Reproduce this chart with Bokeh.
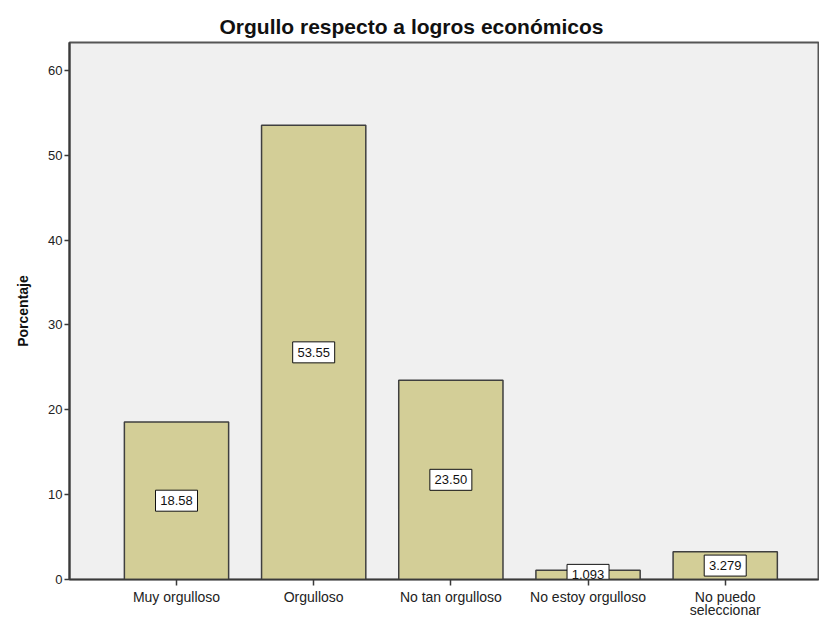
from bokeh.plotting import figure
from bokeh.models import ColumnDataSource, FixedTicker, Range1d
from bokeh.core.properties import value
from bokeh.embed import file_html
from bokeh.resources import INLINE

categories = ["Muy orgulloso", "Orgulloso", "No tan orgulloso", "No estoy orgulloso", "No puedo\nseleccionar"]
values = [18.58, 53.55, 23.50, 1.093, 3.279]
value_labels = ["18.58", "53.55", "23.50", "1.093", "3.279"]
y_ticks = [0, 10, 20, 30, 40, 50, 60]

xs = list(range(len(categories)))
src = ColumnDataSource(dict(x=xs, top=values, mid=[v / 2 for v in values], lbl=value_labels))

FONT = "Liberation Sans"

p = figure(width=819, height=621, output_backend="svg", toolbar_location=None,
           x_range=Range1d(-0.78, 4.68), y_range=Range1d(0, 63.3),
           min_border_left=69, min_border_right=1, min_border_top=42, min_border_bottom=40)

p.background_fill_color = "#F0F0F0"
p.border_fill_color = "white"
p.outline_line_color = "#555555"
p.outline_line_width = 2
p.xgrid.visible = False
p.ygrid.visible = False

p.vbar(x="x", top="top", width=0.76, source=src, fill_color="#D3CE97",
       line_color="#3F3F3F", line_width=1.5)

p.rect(x="x", y="mid", width=42, height=21, width_units="screen", height_units="screen",
       source=src, fill_color="white", line_color="#111111", line_width=1)
p.text(x="x", y="mid", text="lbl", source=src, text_align="center",
       text_baseline="middle", text_font=value(FONT), text_font_size="13px",
       text_color="#111111")

p.title.text = "Orgullo respecto a logros económicos"
p.title.align = "left"
p.title.offset = 150
p.title.text_font = FONT
p.title.text_font_size = "21px"
p.title.text_font_style = "bold"
p.title.text_color = "#111111"

ya = p.yaxis[0]
ya.ticker = FixedTicker(ticks=y_ticks)
ya.minor_tick_line_color = None
ya.major_tick_out = 5
ya.major_tick_in = 0
ya.major_label_standoff = 2
ya.axis_line_color = "#3A3A3A"
ya.axis_line_width = 2
ya.major_tick_line_color = "#3A3A3A"
ya.major_tick_line_width = 1.5
ya.major_label_text_font = FONT
ya.major_label_text_font_size = "13px"
ya.major_label_text_color = "#222222"
ya.axis_label = "Porcentaje"
ya.axis_label_text_font = FONT
ya.axis_label_text_font_size = "14px"
ya.axis_label_text_font_style = "bold"
ya.axis_label_text_color = "#111111"
ya.axis_label_standoff = 14

xa = p.xaxis[0]
xa.ticker = FixedTicker(ticks=xs)
xa.major_label_overrides = {i: c for i, c in zip(xs, categories)}
xa.minor_tick_line_color = None
xa.major_tick_out = 6
xa.major_tick_in = 0
xa.major_label_standoff = 3
xa.axis_line_color = "#3A3A3A"
xa.axis_line_width = 1.5
xa.major_tick_line_color = "#3A3A3A"
xa.major_tick_line_width = 1.5
xa.major_label_text_font = FONT
xa.major_label_text_font_size = "14px"
xa.major_label_text_line_height = 0.85
xa.major_label_text_color = "#222222"

open("out.html", "w").write(file_html(p, INLINE))
